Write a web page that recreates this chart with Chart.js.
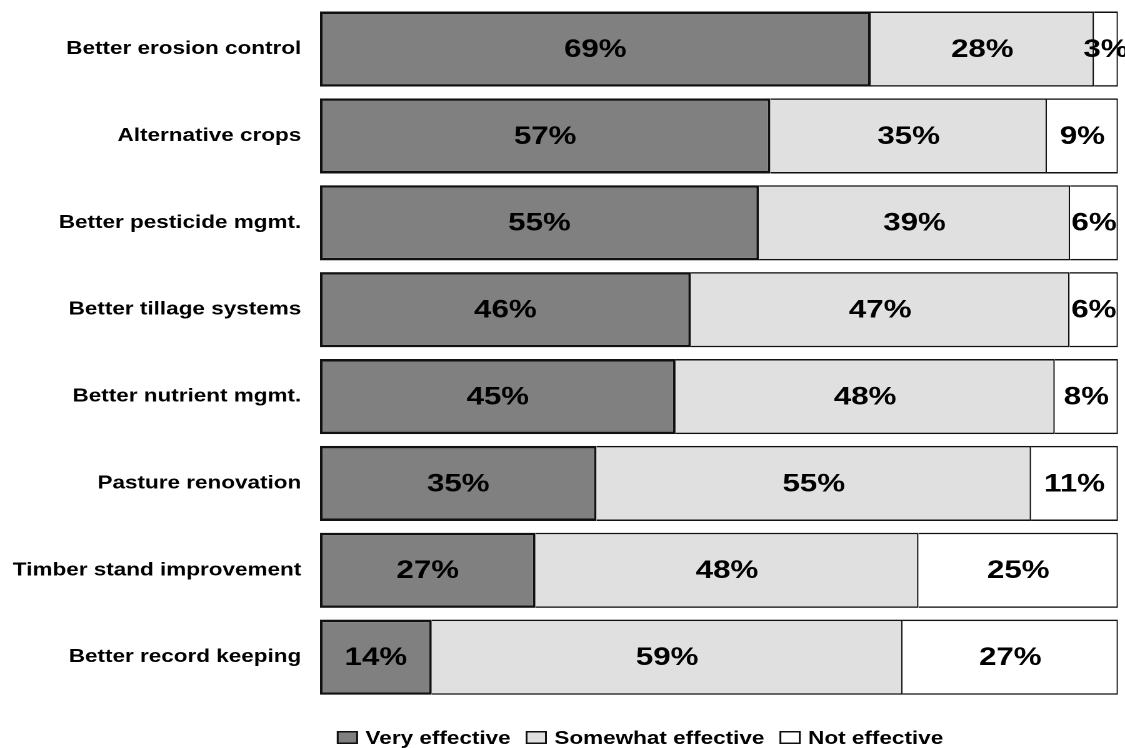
<!DOCTYPE html>
<html>
<head>
<meta charset="utf-8">
<title>Effectiveness of conservation practices</title>
<script src="https://cdn.jsdelivr.net/npm/chart.js@4"></script>
<style>
  html, body { margin: 0; padding: 0; background: #ffffff; }
  canvas { display: block; }
</style>
</head>
<body>
<!-- drawn on a narrower canvas and widened by CSS, giving the wide lettering of the original layout -->
<canvas id="chart" width="900" height="748" style="width:1125px;height:748px"></canvas>
<script>
const practices = [
  'Better erosion control',
  'Alternative crops',
  'Better pesticide mgmt.',
  'Better tillage systems',
  'Better nutrient mgmt.',
  'Pasture renovation',
  'Timber stand improvement',
  'Better record keeping'
];
const veryEffective     = [69, 57, 55, 46, 45, 35, 27, 14];
const somewhatEffective = [28, 35, 39, 47, 48, 55, 48, 59];
const notEffective      = [ 3,  9,  6,  6,  8, 11, 25, 27];
const seriesNames  = ['Very effective', 'Somewhat effective', 'Not effective'];
const seriesColors = ['#808080', '#e0e0e0', '#ffffff'];

const FONT = '"Liberation Sans", Arial, Helvetica, sans-serif';

// each bar is a 100% stack, so rounded rows that add to 101 are scaled to the full width
const rowTotals = practices.map((_, i) => veryEffective[i] + somewhatEffective[i] + notEffective[i]);
const asShare = values => values.map((v, i) => v / rowTotals[i] * 100);

const reported = [veryEffective, somewhatEffective, notEffective];

const datasets = reported.map((values, k) => ({
  label: seriesNames[k],
  data: asShare(values),
  reported: values,
  backgroundColor: seriesColors[k],
  borderColor: '#111111',
  borderWidth: k === 0 ? { top: 2.5, bottom: 2.5, left: 2, right: 2 }
                       : { top: 1.5, bottom: 1.5, left: 1.2, right: 1.2 },
  borderSkipped: k === 0 ? false : 'start',
  barPercentage: 0.865,
  categoryPercentage: 1.0
}));

// percentage written in the middle of every segment
const valueLabels = {
  id: 'valueLabels',
  afterDatasetsDraw(chart) {
    const ctx = chart.ctx;
    ctx.save();
    ctx.font = 'bold 25px ' + FONT;
    ctx.fillStyle = '#000000';
    ctx.textAlign = 'center';
    ctx.textBaseline = 'middle';
    chart.data.datasets.forEach((ds, di) => {
      chart.getDatasetMeta(di).data.forEach((bar, i) => {
        const p = bar.getProps(['x', 'y', 'base'], true);
        ctx.fillText(ds.reported[i] + '%', (p.x + p.base) / 2, p.y + 1);
      });
    });
    ctx.restore();
  }
};

// key row under the bars: outlined swatch followed by the series name
const keyRow = {
  id: 'keyRow',
  afterDraw(chart) {
    const ctx = chart.ctx;
    ctx.save();
    ctx.font = 'bold 18px ' + FONT;
    ctx.textBaseline = 'alphabetic';
    ctx.textAlign = 'left';
    const boxW = 17, boxH = 13, gapText = 6, gapItem = 12;
    const widths = seriesNames.map(n => ctx.measureText(n).width);
    const total = widths.reduce((a, w) => a + boxW + gapText + w, 0) + gapItem * (seriesNames.length - 1);
    let x = 512 - total / 2;
    const baseY = 744;
    seriesNames.forEach((name, k) => {
      ctx.fillStyle = seriesColors[k];
      ctx.fillRect(x, baseY - boxH, boxW, boxH);
      ctx.lineWidth = 1.5;
      ctx.strokeStyle = '#111111';
      ctx.strokeRect(x + 0.75, baseY - boxH + 0.75, boxW - 1.5, boxH - 1.5);
      ctx.fillStyle = '#000000';
      ctx.fillText(name, x + boxW + gapText, baseY);
      x += boxW + gapText + widths[k] + gapItem;
    });
    ctx.restore();
  }
};

new Chart(document.getElementById('chart'), {
  type: 'bar',
  data: { labels: practices, datasets },
  options: {
    indexAxis: 'y',
    responsive: false,
    devicePixelRatio: 2,
    animation: false,
    layout: { padding: { top: 5.6, bottom: 47.4, left: 0, right: 5.6 } },
    plugins: {
      legend: { display: false },
      tooltip: { enabled: false }
    },
    scales: {
      x: { stacked: true, min: 0, max: 100, display: false },
      y: {
        stacked: true,
        grid: { display: false, drawTicks: false },
        border: { display: false },
        ticks: {
          padding: 15,
          color: '#000000',
          font: { family: FONT, size: 18, weight: 'bold' }
        },
        afterFit(scale) {
          scale.width = 256;
          scale.paddingTop = 0;
          scale.paddingBottom = 0;
        }
      }
    }
  },
  plugins: [valueLabels, keyRow]
});
</script>
</body>
</html>
